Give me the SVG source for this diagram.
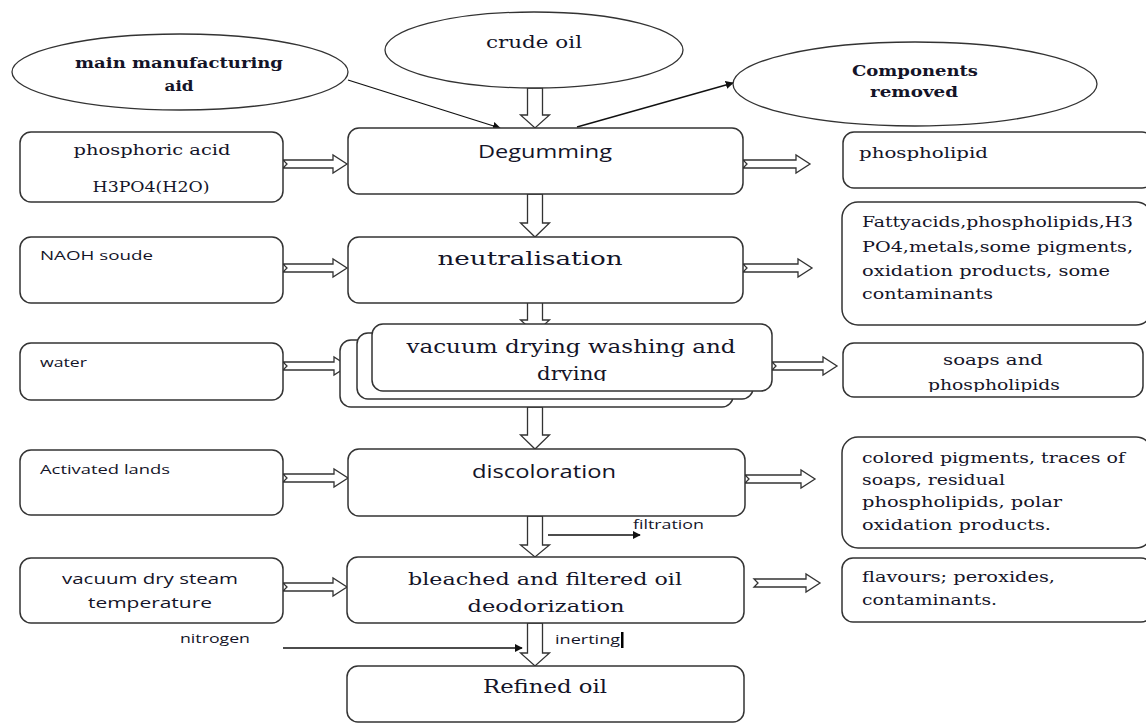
<svg xmlns="http://www.w3.org/2000/svg" width="1146" height="726" viewBox="0 0 1146 726">
<style>
.box{fill:#fff;stroke:#333;stroke-width:1.5}
.ell{fill:#fff;stroke:#333;stroke-width:1.3}
.blk{fill:#fff;stroke:#333;stroke-width:1.3;stroke-linejoin:miter}
.ln{fill:none;stroke:#111;stroke-width:1.3}
.sf{font-family:"DejaVu Serif","Liberation Serif",serif;fill:#141428}
.ss{font-family:"Open Sans","Liberation Sans",sans-serif;fill:#141428}
.b{font-weight:bold}
</style>
<defs>
<marker id="ah" viewBox="0 0 10 10" refX="9" refY="5" markerWidth="8" markerHeight="8" markerUnits="userSpaceOnUse" orient="auto"><path d="M0,0 L10,5 L0,10 Z" fill="#111"/></marker>
<clipPath id="cv"><rect x="372" y="324" width="400" height="57"/></clipPath>
<clipPath id="cs"><rect x="843" y="343" width="300" height="49"/></clipPath>
</defs>
<rect width="1146" height="726" fill="#fff"/>

<g id="connectors">
<line class="ln" x1="348" y1="80" x2="500" y2="128" marker-end="url(#ah)"/>
<line class="ln" x1="577" y1="127" x2="733" y2="83" marker-end="url(#ah)"/>
<line class="ln" x1="548" y1="535" x2="640" y2="535" marker-end="url(#ah)"/>
<line class="ln" x1="283" y1="648" x2="522" y2="648" marker-end="url(#ah)"/>
<path class="blk" d="M527.5,88 L542.5,88 L542.5,115 L549.5,115 L535,128 L520.5,115 L527.5,115 Z"/>
<path class="blk" d="M527.5,194 L542.5,194 L542.5,223 L549.5,223 L535,237 L520.5,223 L527.5,223 Z"/>
<path class="blk" d="M527.5,290 L542.5,290 L542.5,320 L549.5,320 L535,333 L520.5,320 L527.5,320 Z"/>
<path class="blk" d="M527.5,407 L542.5,407 L542.5,435 L549.5,435 L535,449 L520.5,435 L527.5,435 Z"/>
<path class="blk" d="M527.5,516 L542.5,516 L542.5,545 L549.5,545 L535,557 L520.5,545 L527.5,545 Z"/>
<path class="blk" d="M527.5,623 L542.5,623 L542.5,653 L549.5,653 L535,666 L520.5,653 L527.5,653 Z"/>
<path class="blk" d="M283,160 L333,160 L333,155 L347,164 L333,173 L333,168 L283,168 L287,164 Z"/>
<path class="blk" d="M283,264 L333,264 L333,259 L347,268 L333,277 L333,272 L283,272 L287,268 Z"/>
<path class="blk" d="M283,362 L334,362 L334,357 L348,366 L334,375 L334,370 L283,370 L287,366 Z"/>
<path class="blk" d="M283,474 L334,474 L334,469 L348,478 L334,487 L334,482 L283,482 L287,478 Z"/>
<path class="blk" d="M283,583 L333,583 L333,578 L347,587 L333,596 L333,591 L283,591 L287,587 Z"/>
<path class="blk" d="M743,160 L796,160 L796,155 L810,164 L796,173 L796,168 L743,168 L747,164 Z"/>
<path class="blk" d="M743,264 L798,264 L798,259 L812,268 L798,277 L798,272 L743,272 L747,268 Z"/>
<path class="blk" d="M772,362 L823,362 L823,357 L837,366 L823,375 L823,370 L772,370 L776,366 Z"/>
<path class="blk" d="M745,475 L801,475 L801,470 L815,479 L801,488 L801,483 L745,483 L749,479 Z"/>
<path class="blk" d="M754,579 L806,579 L806,574 L820,583 L806,592 L806,587 L754,587 L758,583 Z"/>
</g>

<g id="main-aid">
<ellipse class="ell" cx="180" cy="72" rx="168" ry="38"/>
<text class="sf b" x="179" y="68" font-size="14.5" text-anchor="middle" textLength="208" lengthAdjust="spacingAndGlyphs">main manufacturing</text>
<text class="sf b" x="179" y="91" font-size="14.5" text-anchor="middle" textLength="29" lengthAdjust="spacingAndGlyphs">aid</text>
</g>
<g id="crude-oil">
<ellipse class="ell" cx="534" cy="50" rx="149" ry="38"/>
<text class="sf" x="534" y="48" font-size="17.5" text-anchor="middle" textLength="96" lengthAdjust="spacingAndGlyphs">crude oil</text>
</g>
<g id="components-removed">
<ellipse class="ell" cx="915" cy="84" rx="182" ry="42"/>
<text class="sf b" x="915" y="76" font-size="14.5" text-anchor="middle" textLength="126" lengthAdjust="spacingAndGlyphs">Components</text>
<text class="sf b" x="914" y="97" font-size="14.5" text-anchor="middle" textLength="88" lengthAdjust="spacingAndGlyphs">removed</text>
</g>

<g id="phosphoric-acid">
<rect class="box" x="20" y="132" width="263" height="70" rx="11"/>
<text class="sf" x="152" y="155" font-size="14.5" text-anchor="middle" textLength="157" lengthAdjust="spacingAndGlyphs">phosphoric acid</text>
<text class="sf" x="151" y="192" font-size="15" text-anchor="middle" textLength="117" lengthAdjust="spacingAndGlyphs">H3PO4(H2O)</text>
</g>
<g id="degumming">
<rect class="box" x="348" y="128" width="395" height="66" rx="11"/>
<text class="ss" x="545" y="158" font-size="18" text-anchor="middle" textLength="134" lengthAdjust="spacingAndGlyphs">Degumming</text>
</g>
<g id="phospholipid">
<rect class="box" x="843" y="132" width="310" height="56" rx="11"/>
<text class="sf" x="859" y="158" font-size="14.5" textLength="129" lengthAdjust="spacingAndGlyphs">phospholipid</text>
</g>

<g id="naoh">
<rect class="box" x="20" y="237" width="263" height="66" rx="11"/>
<text class="ss" x="40" y="260" font-size="12.5" textLength="113" lengthAdjust="spacingAndGlyphs">NAOH soude</text>
</g>
<g id="neutralisation">
<rect class="box" x="348" y="237" width="395" height="66" rx="11"/>
<text class="sf" x="530" y="265" font-size="18" text-anchor="middle" textLength="185" lengthAdjust="spacingAndGlyphs">neutralisation</text>
</g>
<g id="fattyacids">
<rect class="box" x="842" y="202" width="310" height="123" rx="16"/>
<text class="sf" x="862" y="227" font-size="14.5" textLength="271" lengthAdjust="spacingAndGlyphs">Fattyacids,phospholipids,H3</text>
<text class="sf" x="862" y="252" font-size="14.5" textLength="271" lengthAdjust="spacingAndGlyphs">PO4,metals,some pigments,</text>
<text class="sf" x="862" y="276" font-size="14.5" textLength="248" lengthAdjust="spacingAndGlyphs">oxidation products, some</text>
<text class="sf" x="862" y="299" font-size="14.5" textLength="131" lengthAdjust="spacingAndGlyphs">contaminants</text>
</g>

<g id="water">
<rect class="box" x="20" y="343" width="263" height="57" rx="11"/>
<text class="ss" x="40" y="367" font-size="12.5" textLength="47" lengthAdjust="spacingAndGlyphs">water</text>
</g>
<g id="vacuum-drying">
<rect class="box" x="340" y="340" width="393" height="67" rx="11"/>
<rect class="box" x="357" y="333" width="396" height="66" rx="11"/>
<rect class="box" x="372" y="324" width="400" height="67" rx="11"/>
<g clip-path="url(#cv)">
<text class="sf" x="571" y="353" font-size="18" text-anchor="middle" textLength="329" lengthAdjust="spacingAndGlyphs">vacuum drying  washing and</text>
<text class="sf" x="572" y="380" font-size="18" text-anchor="middle" textLength="70" lengthAdjust="spacingAndGlyphs">drying</text>
</g>
</g>
<g id="soaps">
<rect class="box" x="843" y="343" width="300" height="54" rx="11"/>
<g clip-path="url(#cs)">
<text class="sf" x="993" y="365" font-size="14.5" text-anchor="middle" textLength="100" lengthAdjust="spacingAndGlyphs">soaps and</text>
<text class="sf" x="994" y="390" font-size="14.5" text-anchor="middle" textLength="132" lengthAdjust="spacingAndGlyphs">phospholipids</text>
</g>
</g>

<g id="activated-lands">
<rect class="box" x="20" y="450" width="263" height="65" rx="11"/>
<text class="ss" x="40" y="474" font-size="12.5" textLength="130" lengthAdjust="spacingAndGlyphs">Activated lands</text>
</g>
<g id="discoloration">
<rect class="box" x="348" y="449" width="397" height="67" rx="11"/>
<text class="ss" x="544" y="478" font-size="18" text-anchor="middle" textLength="144" lengthAdjust="spacingAndGlyphs">discoloration</text>
</g>
<g id="colored">
<rect class="box" x="842" y="437" width="310" height="111" rx="16"/>
<text class="sf" x="862" y="463" font-size="14.5" textLength="263" lengthAdjust="spacingAndGlyphs">colored pigments, traces of</text>
<text class="sf" x="862" y="485" font-size="14.5" textLength="143" lengthAdjust="spacingAndGlyphs">soaps, residual</text>
<text class="sf" x="862" y="507" font-size="14.5" textLength="200" lengthAdjust="spacingAndGlyphs">phospholipids, polar</text>
<text class="sf" x="862" y="530" font-size="14.5" textLength="189" lengthAdjust="spacingAndGlyphs">oxidation products.</text>
</g>
<g id="filtration-label">
<text class="ss" x="633" y="529" font-size="12" textLength="71" lengthAdjust="spacingAndGlyphs">filtration</text>
</g>

<g id="vacuum-dry-steam">
<rect class="box" x="20" y="558" width="263" height="65" rx="11"/>
<text class="ss" x="150" y="584" font-size="14" text-anchor="middle" textLength="176" lengthAdjust="spacingAndGlyphs">vacuum dry steam</text>
<text class="ss" x="150" y="608" font-size="14" text-anchor="middle" textLength="124" lengthAdjust="spacingAndGlyphs">temperature</text>
</g>
<g id="bleached">
<rect class="box" x="347" y="557" width="397" height="66" rx="11"/>
<text class="sf" x="545" y="585" font-size="17.5" text-anchor="middle" textLength="274" lengthAdjust="spacingAndGlyphs">bleached and filtered oil</text>
<text class="sf" x="546" y="612" font-size="17.5" text-anchor="middle" textLength="157" lengthAdjust="spacingAndGlyphs">deodorization</text>
</g>
<g id="flavours">
<rect class="box" x="842" y="558" width="310" height="64" rx="11"/>
<text class="sf" x="862" y="582" font-size="14.5" textLength="193" lengthAdjust="spacingAndGlyphs">flavours; peroxides,</text>
<text class="sf" x="862" y="605" font-size="14.5" textLength="135" lengthAdjust="spacingAndGlyphs">contaminants.</text>
</g>
<g id="nitrogen-label">
<text class="ss" x="180" y="643" font-size="12.5" textLength="70" lengthAdjust="spacingAndGlyphs">nitrogen</text>
</g>
<g id="inerting-label">
<text class="ss" x="555" y="644" font-size="12.5" textLength="65" lengthAdjust="spacingAndGlyphs">inerting</text>
<rect x="621" y="632" width="2.5" height="16" fill="#000"/>
</g>
<g id="refined-oil">
<rect class="box" x="347" y="666" width="397" height="56" rx="11"/>
<text class="sf" x="545" y="693" font-size="18" text-anchor="middle" textLength="124" lengthAdjust="spacingAndGlyphs">Refined oil</text>
</g>
</svg>
